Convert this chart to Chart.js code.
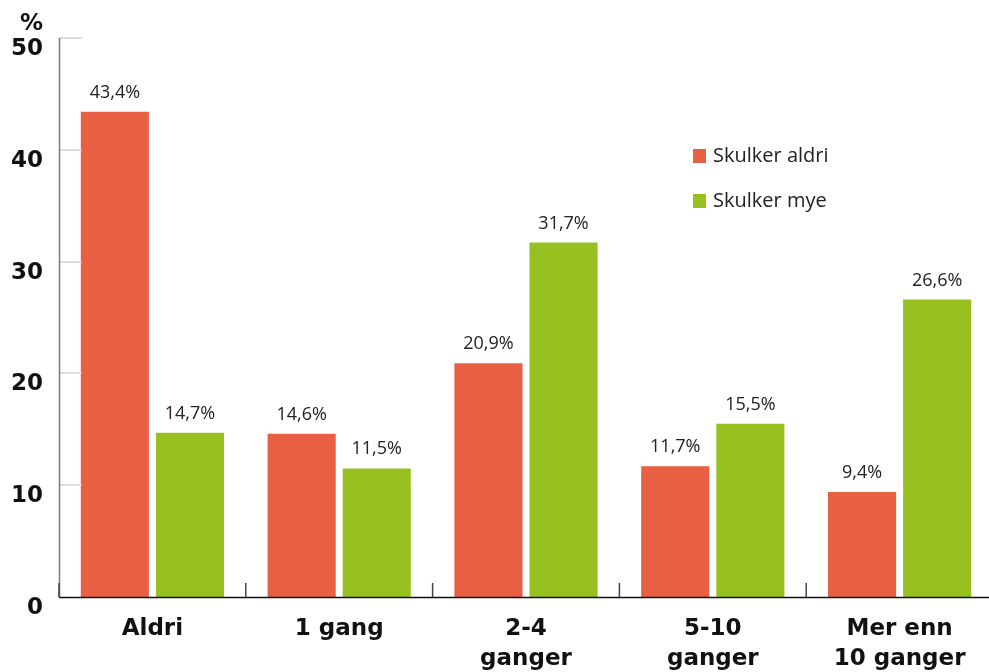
<!DOCTYPE html>
<html><head><meta charset="utf-8">
<script src="https://cdn.jsdelivr.net/npm/chart.js@4/dist/chart.umd.min.js"></script>
<style>html,body{margin:0;padding:0;background:#fff}#wrap{width:989px;height:672px;position:relative;overflow:hidden}</style>
</head><body><div id="wrap"><canvas id="c" width="993" height="672"></canvas></div>
<script>
const categories = [["Aldri"], ["1 gang"], ["2-4", "ganger"], ["5-10", "ganger"], ["Mer enn", "10 ganger"]];
const seriesNames = ["Skulker aldri", "Skulker mye"];
const skulkerAldri = [43.4, 14.6, 20.9, 11.7, 9.4];
const skulkerMye = [14.7, 11.5, 31.7, 15.5, 26.6];
const yTicks = [0, 10, 20, 30, 40, 50];
const unitLabel = "%";
const colors = ["#E85F43", "#97C121"];
const BOLD = "'DejaVu Sans', sans-serif";
const REG = "'Open Sans', sans-serif";

const fmt = v => v.toFixed(1).replace('.', ',') + '%';

const decor = {
  id: 'decor',
  afterDatasetsDraw(chart) {
    const ctx = chart.ctx, x = chart.scales.x, y = chart.scales.y, ca = chart.chartArea;
    ctx.save();
    // short grid ticks
    ctx.strokeStyle = '#d2d2d2'; ctx.lineWidth = 1.5;
    yTicks.forEach(t => { if (t === 0) return; const py = Math.round(y.getPixelForValue(t));
      ctx.beginPath(); ctx.moveTo(ca.left, py); ctx.lineTo(ca.left + 23, py); ctx.stroke(); });
    // y axis line
    ctx.strokeStyle = '#7a7a7a'; ctx.lineWidth = 1.5;
    ctx.beginPath(); ctx.moveTo(ca.left + 0.5, y.getPixelForValue(yTicks[yTicks.length - 1])); ctx.lineTo(ca.left + 0.5, ca.bottom); ctx.stroke();
    // x axis line
    ctx.strokeStyle = '#111'; ctx.lineWidth = 1.6;
    ctx.beginPath(); ctx.moveTo(ca.left, ca.bottom + 0.5); ctx.lineTo(ca.right, ca.bottom + 0.5); ctx.stroke();
    // category separators
    ctx.strokeStyle = '#444'; ctx.lineWidth = 1.5;
    const step = x.getPixelForValue(1) - x.getPixelForValue(0);
    for (let i = 0; i < categories.length; i++) {
      const px = x.getPixelForValue(i) - step / 2;
      ctx.beginPath(); ctx.moveTo(px, ca.bottom); ctx.lineTo(px, ca.bottom - 14); ctx.stroke();
    }
    // value labels
    ctx.fillStyle = '#222'; ctx.font = '18px ' + REG; ctx.textAlign = 'center'; ctx.textBaseline = 'alphabetic';
    chart.data.datasets.forEach((ds, di) => {
      chart.getDatasetMeta(di).data.forEach((bar, i) => {
        ctx.fillText(fmt(ds.data[i]), bar.x, bar.y - 14);
      });
    });
    // unit label
    ctx.font = 'bold 23px ' + BOLD; ctx.fillStyle = '#111'; ctx.textAlign = 'right'; ctx.textBaseline = 'middle';
    ctx.fillText(unitLabel, 43, 24);
    // legend
    ctx.font = '20px ' + REG; ctx.textAlign = 'left'; ctx.textBaseline = 'middle';
    seriesNames.forEach((n, i) => {
      const cy = 156 + i * 45;
      ctx.fillStyle = colors[i]; ctx.fillRect(693, cy - 7, 13, 14);
      ctx.fillStyle = '#222'; ctx.fillText(n, 713, cy);
    });
    ctx.restore();
  }
};

new Chart(document.getElementById('c'), {
  type: 'bar',
  data: {
    labels: categories,
    datasets: [
      { label: seriesNames[0], data: skulkerAldri, backgroundColor: colors[0] },
      { label: seriesNames[1], data: skulkerMye, backgroundColor: colors[1] }
    ]
  },
  options: {
    responsive: false, animation: false,
    layout: { padding: { top: 38, right: 0, left: 0, bottom: 0 } },
    plugins: { legend: { display: false }, tooltip: { enabled: false } },
    datasets: { bar: { categoryPercentage: 0.804, barPercentage: 0.907 } },
    scales: {
      x: {
        grid: { display: false, drawTicks: false }, border: { display: false },
        ticks: { color: '#111', font: { family: BOLD, size: 23, weight: 'bold', lineHeight: 1.3 }, padding: 17, maxRotation: 0, autoSkip: false },
        afterFit(s) { s.height = 75; }
      },
      y: {
        min: 0, max: 50,
        afterBuildTicks(s) { s.ticks = yTicks.map(v => ({ value: v })); },
        grid: { display: false, drawTicks: false }, border: { display: false },
        ticks: { color: '#111', font: { family: BOLD, size: 23, weight: 'bold' }, padding: 16, labelOffset: 11 },
        afterFit(s) { s.width = 59; }
      }
    }
  },
  plugins: [decor]
});
</script></body></html>
